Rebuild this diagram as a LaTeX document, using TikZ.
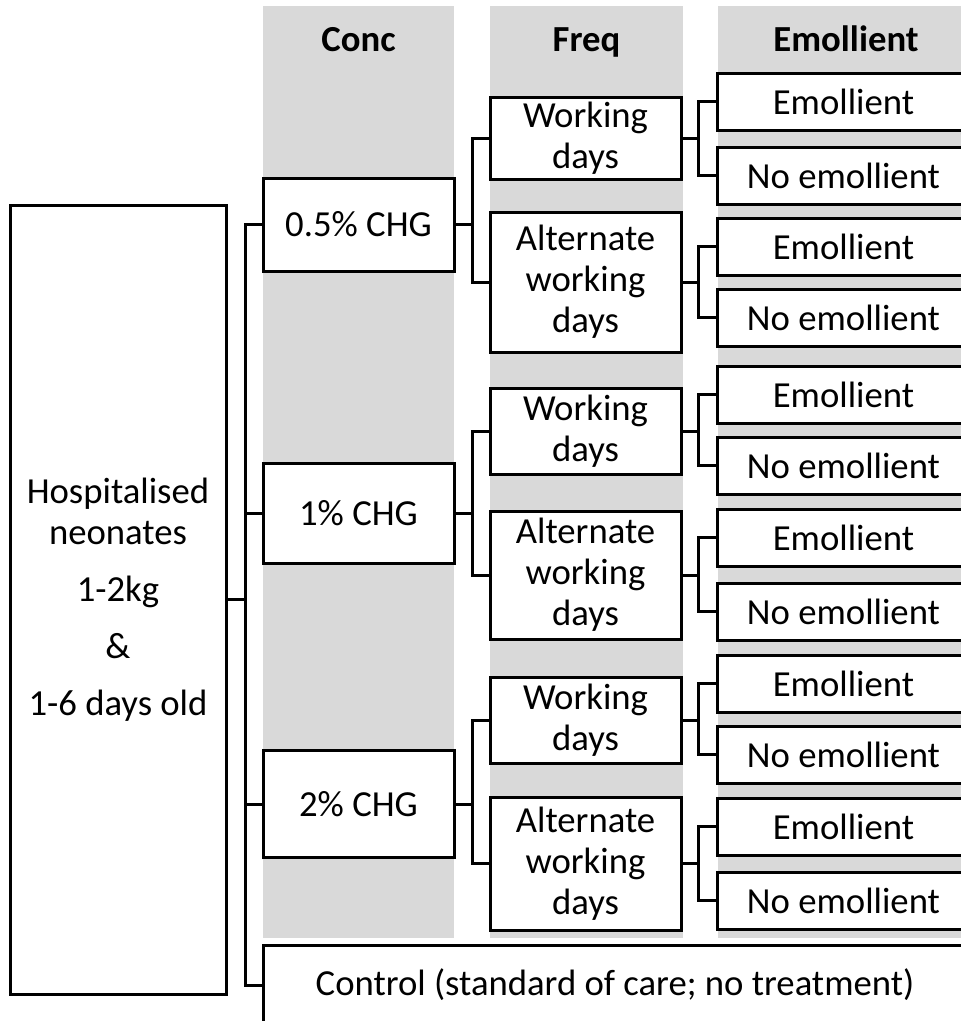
\documentclass[tikz,border=0pt]{standalone}
\usepackage{fontspec}
\setmainfont{Carlito}
\definecolor{colbg}{HTML}{D9D9D9}
\begin{document}
\begin{tikzpicture}[x=1pt,y=-1pt,
  txt/.style={font=\fontsize{36.7}{41}\selectfont},
  bx/.style={txt, draw, line width=3pt, fill=white, inner sep=0pt, align=center},
  hdr/.style={font=\fontsize{36.7}{41}\selectfont\bfseries, anchor=base, inner sep=0pt},
  colbox/.style={fill=colbg, draw=none},
  con/.style={line width=3pt, line join=miter},
  concbox/.style={bx, minimum width=191pt},
  freqbox/.style={bx, minimum width=191pt},
  emobox/.style={bx, minimum width=253pt, minimum height=57pt}]
\useasboundingbox (0,0) rectangle (961,1021);
\clip (0,0) rectangle (961,1021);
% column backgrounds
\fill[colbox] (263,6) rectangle (454,938);
\fill[colbox] (490,6) rectangle (683,938);
\fill[colbox] (718,6) rectangle (975,938);
% headers
\node[hdr] (hconc) at (358.5,51) {Conc};
\node[hdr] (hfreq) at (586.5,51) {Freq};
\node[hdr] (hemo) at (846,51) {Emollient};
% left box
\node[bx, minimum width=216pt, minimum height=789pt] (hosp) at (118,599.5)
  {Hospitalised\\neonates\\[16pt]1-2kg\\[16pt]\&\\[16pt]1-6 days old};
% concentration
\node[concbox, minimum height=93pt] (c1) at (358.5,224.5) {0.5\% CHG};
\node[concbox, minimum height=100pt] (c2) at (358.5,513) {1\% CHG};
\node[concbox, minimum height=107pt] (c3) at (358.5,804) {2\% CHG};
% control
\node[bx, minimum width=704pt, minimum height=80pt] (ctrl) at (615,985)
  {Control (standard of care; no treatment)};
% frequency
\node[freqbox, minimum height=82pt] (f1) at (585.5,138) {Working\\days};
\node[freqbox, minimum height=140pt] (f2) at (585.5,282) {Alternate\\working\\days};
\node[freqbox, minimum height=86pt] (f3) at (585.5,431) {Working\\days};
\node[freqbox, minimum height=128pt] (f4) at (585.5,575) {Alternate\\working\\days};
\node[freqbox, minimum height=86pt] (f5) at (585.5,720) {Working\\days};
\node[freqbox, minimum height=133pt] (f6) at (585.5,863.5) {Alternate\\working\\days};
% emollient
\node[emobox] (e1) at (843.5,101.5) {Emollient};
\node[emobox] (n1) at (843.5,175.5) {No emollient};
\node[emobox] (e2) at (843.5,246.5) {Emollient};
\node[emobox] (n2) at (843.5,317.5) {No emollient};
\node[emobox] (e3) at (843.5,394.5) {Emollient};
\node[emobox] (n3) at (843.5,465.5) {No emollient};
\node[emobox] (e4) at (843.5,537.5) {Emollient};
\node[emobox] (n4) at (843.5,611.5) {No emollient};
\node[emobox] (e5) at (843.5,683.5) {Emollient};
\node[emobox] (n5) at (843.5,754.5) {No emollient};
\node[emobox] (e6) at (843.5,826.5) {Emollient};
\node[emobox] (n6) at (843.5,900.5) {No emollient};
% bracket x positions
\coordinate (b0) at (245,0);
\coordinate (b1) at (472,0);
\coordinate (b2) at (698,0);
% main bracket
\draw[con] (c1.west) -| (b0 |- ctrl.west) -- (ctrl.west);
\draw[con] (hosp.east) -- (hosp.east -| b0);
\draw[con] (c2.west) -- (c2.west -| b0);
\draw[con] (c3.west) -- (c3.west -| b0);
% conc to freq
\foreach \c/\a/\b in {c1/f1/f2, c2/f3/f4, c3/f5/f6}{
  \draw[con] (\a.west) -| (b1 |- \b.west) -- (\b.west);
  \draw[con] (\c.east) -- (\c.east -| b1);
}
% freq to emollient
\foreach \f/\a/\b in {f1/e1/n1, f2/e2/n2, f3/e3/n3, f4/e4/n4, f5/e5/n5, f6/e6/n6}{
  \draw[con] (\a.west) -| (b2 |- \b.west) -- (\b.west);
  \draw[con] (\f.east) -- (\f.east -| b2);
}
\end{tikzpicture}
\end{document}
